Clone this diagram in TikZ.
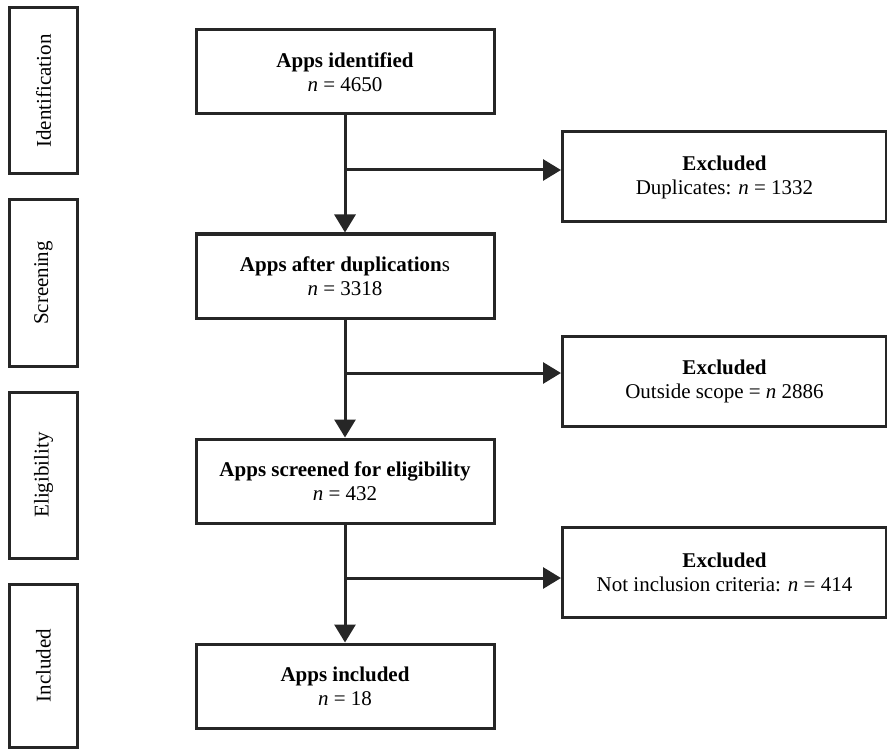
\documentclass[tikz,border=0pt]{standalone}
\usepackage{fontspec}
\setmainfont{Liberation Serif}
\usetikzlibrary{arrows.meta}
\begin{document}
\begin{tikzpicture}[x=1pt,y=-1pt,
  box/.style={draw=black!85, line width=3pt, inner sep=0pt, align=center,
    font=\fontsize{21}{24}\selectfont},
  mainbox/.style={box, minimum width=298pt, minimum height=84pt},
  exbox/.style={box, minimum width=324pt, minimum height=90pt},
  sidebox/.style={box, minimum width=68pt, rotate=90, anchor=center},
  flow/.style={draw=black!85, line width=3pt, -{Triangle[length=18pt,width=21pt]}},
  branch/.style={draw=black!85, line width=3pt}]
\useasboundingbox (0,0) rectangle (887,749);
% side labels
\node[sidebox, minimum width=166pt, minimum height=68pt] (sid) at (43.5,91) {Identification};
\node[sidebox, minimum width=166pt, minimum height=68pt] (ssc) at (43.5,283) {Screening};
\node[sidebox, minimum width=166pt, minimum height=68pt] (sel) at (43.5,475) {Eligibility};
\node[sidebox, minimum width=163pt, minimum height=68pt] (sin) at (43.5,665.5) {Included};
% main boxes
\node[mainbox] (a) at (345,72) {\textbf{Apps identified}\\\textit{n} = 4650};
\node[mainbox] (b) at (345,276) {\textbf{Apps after duplication}s\\\textit{n} = 3318};
\node[mainbox] (c) at (345,481) {\textbf{Apps screened for eligibility}\\\textit{n} = 432};
\node[mainbox] (d) at (345,686) {\textbf{Apps included}\\\textit{n} = 18};
% excluded boxes
\node[exbox] (e1) at (724.5,177) {\textbf{Excluded}\\Duplicates: \textit{n} = 1332};
\node[exbox] (e2) at (724.5,381) {\textbf{Excluded}\\Outside scope = \textit{n} 2886};
\node[exbox] (e3) at (724.5,572.5) {\textbf{Excluded}\\Not inclusion criteria: \textit{n} = 414};
% vertical flow
\draw[flow] (a.south) -- (b.north);
\draw[flow] (b.south) -- (c.north);
\draw[flow] (c.south) -- (d.north);
% branches
\coordinate (j1) at (345,170);
\coordinate (j2) at (345,373);
\coordinate (j3) at (345,578);
\draw[flow] (j1) -- (j1 -| e1.west);
\draw[flow] (j2) -- (j2 -| e2.west);
\draw[flow] (j3) -- (j3 -| e3.west);
\end{tikzpicture}
\end{document}
